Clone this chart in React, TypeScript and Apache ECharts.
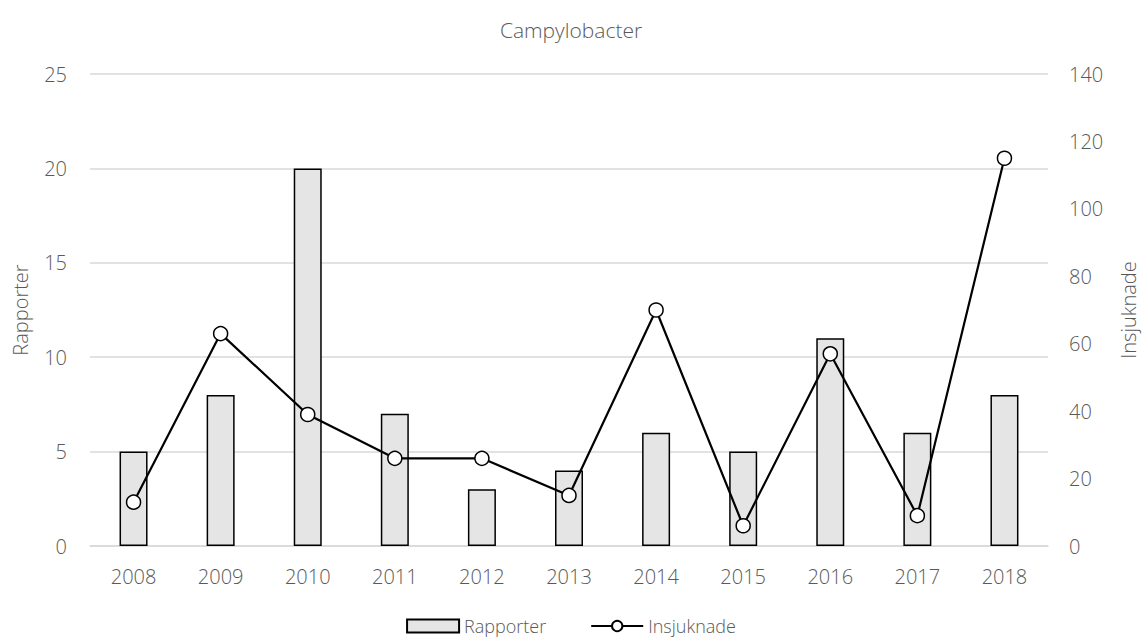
import React, { useEffect, useRef } from "react";
import * as echarts from "echarts";

const years = ["2008", "2009", "2010", "2011", "2012", "2013", "2014", "2015", "2016", "2017", "2018"];
const rapporter = [5, 8, 20, 7, 3, 4, 6, 5, 11, 6, 8];
const insjuknade = [13, 63, 39, 26, 26, 15, 70, 6, 57, 9, 115];

const FONT = "'Open Sans', 'Noto Sans', sans-serif";
const GRAY = "#595959";

export default function App() {
  const ref = useRef<HTMLDivElement>(null);
  useEffect(() => {
    if (!ref.current) return;
    const chart = echarts.init(ref.current, null, { renderer: "svg" });
    chart.setOption({
      animation: false,
      backgroundColor: "#ffffff",
      textStyle: { fontFamily: FONT, fontWeight: 300 },
      title: {
        text: "Campylobacter",
        left: "center",
        top: 14,
        textStyle: { fontFamily: FONT, fontWeight: 300, fontSize: 21, color: GRAY },
      },
      grid: { left: 90, right: 94, top: 74, bottom: 95, containLabel: false, outerBoundsMode: "none" },
      legend: {
        bottom: 1,
        left: "center",
        itemWidth: 52,
        itemHeight: 13,
        itemGap: 44,
        textStyle: { fontFamily: FONT, fontWeight: 300, fontSize: 18, color: GRAY },
        data: [{ name: "Rapporter", icon: "rect" }, { name: "Insjuknade" }],
      },
      xAxis: {
        type: "category",
        data: years,
        axisLine: { show: true, lineStyle: { color: "#d9d9d9", width: 1.5 } },
        axisTick: { show: false },
        axisLabel: { color: GRAY, fontSize: 20, fontFamily: FONT, fontWeight: 300, margin: 20 },
      },
      yAxis: [
        {
          type: "value",
          min: 0,
          max: 25,
          interval: 5,
          name: "Rapporter",
          nameLocation: "middle",
          nameGap: 60,
          nameTextStyle: { color: GRAY, fontSize: 20, fontFamily: FONT, fontWeight: 300 },
          axisLabel: { color: GRAY, fontSize: 20, fontFamily: FONT, fontWeight: 300, margin: 23 },
          axisLine: { show: false },
          axisTick: { show: false },
          splitLine: { lineStyle: { color: "#d9d9d9", width: 1.5 } },
        },
        {
          type: "value",
          min: 0,
          max: 140,
          interval: 20,
          name: "Insjuknade",
          nameLocation: "middle",
          nameGap: 70,
          nameRotate: 90,
          nameTextStyle: { color: GRAY, fontSize: 20, fontFamily: FONT, fontWeight: 300 },
          axisLabel: { color: GRAY, fontSize: 20, fontFamily: FONT, fontWeight: 300, margin: 21 },
          axisLine: { show: false },
          axisTick: { show: false },
          splitLine: { show: false },
        },
      ],
      series: [
        {
          name: "Rapporter",
          type: "bar",
          yAxisIndex: 0,
          data: rapporter,
          barWidth: 28,
          itemStyle: { color: "#e5e5e5", borderColor: "#000000", borderWidth: 1.5 },
        },
        {
          name: "Insjuknade",
          type: "line",
          yAxisIndex: 1,
          data: insjuknade,
          symbol: "circle",
          symbolSize: 14,
          lineStyle: { color: "#000000", width: 2.2 },
          itemStyle: { color: "#ffffff", borderColor: "#000000", borderWidth: 1.5 },
        },
      ],
    });
    return () => chart.dispose();
  }, []);
  return <div ref={ref} style={{ width: 1142, height: 641, position: "absolute", left: 0, top: 0 }} />;
}
